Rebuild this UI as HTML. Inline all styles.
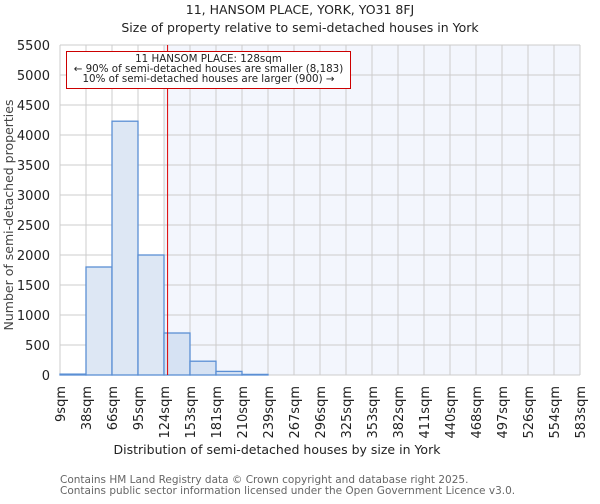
<!DOCTYPE html>
<html><head><meta charset="utf-8"><style>
body{margin:0;background:#fff;font-family:"DejaVu Sans","Liberation Sans",sans-serif;}
svg text{font-family:"DejaVu Sans","Liberation Sans",sans-serif;}
</style></head><body>
<svg id="c" width="600" height="500" xmlns="http://www.w3.org/2000/svg">
<text x="300" y="14" text-anchor="middle" font-size="12.5" fill="#222">11, HANSOM PLACE, YORK, YO31 8FJ</text>
<text x="300" y="32" text-anchor="middle" font-size="12.5" fill="#222">Size of property relative to semi-detached houses in York</text>
<g id="plot"></g>
<text x="277" y="454" text-anchor="middle" font-size="12.5" fill="#222">Distribution of semi-detached houses by size in York</text>
<text transform="translate(13,215) rotate(-90)" text-anchor="middle" font-size="12.5" fill="#444">Number of semi-detached properties</text>
<text x="60" y="483" font-size="10.5" fill="#666">Contains HM Land Registry data © Crown copyright and database right 2025.</text>
<text x="60" y="494" font-size="10.5" fill="#666">Contains public sector information licensed under the Open Government Licence v3.0.</text>
</svg>
<script>
const binLabels=["9sqm","38sqm","66sqm","95sqm","124sqm","153sqm","181sqm","210sqm","239sqm","267sqm","296sqm","325sqm","353sqm","382sqm","411sqm","440sqm","468sqm","497sqm","526sqm","554sqm","583sqm"];
const counts=[15,1800,4230,2000,700,230,60,10,0,0,0,0,0,0,0,0,0,0,0,0];
const yTicks=[0,500,1000,1500,2000,2500,3000,3500,4000,4500,5000,5500];
const subjectSize=128;
const highlightStartBin=4;
const NS="http://www.w3.org/2000/svg";
const L=60,R=580,T=45,B=375,YMAX=5500;
const bw=(R-L)/counts.length;
const xB=i=>L+i*bw;
const sz=binLabels.map(s=>parseFloat(s));
function xVal(v){for(let i=0;i<sz.length-1;i++){if(v<=sz[i+1])return xB(i)+(v-sz[i])/(sz[i+1]-sz[i])*bw;}return R;}
const y=v=>B-v/YMAX*(B-T);
const g=document.getElementById('plot');
function mk(t,a){const e=document.createElementNS(NS,t);for(const k in a)e.setAttribute(k,a[k]);g.appendChild(e);return e;}
let e;
e=mk('rect',{x:xB(highlightStartBin),y:T,width:R-xB(highlightStartBin),height:B-T,fill:'#f3f6fd'});


yTicks.forEach(v=>{
 e=mk('line',{x1:L,x2:R,y1:y(v),y2:y(v),stroke:'#cccccc','stroke-width':1});
 
 
 e=mk('text',{x:L-10,y:y(v)+5,'text-anchor':'end','font-size':13,fill:'#222'});
 e.textContent=v;
 
 
});
binLabels.forEach((s,i)=>{
 e=mk('line',{x1:xB(i),x2:xB(i),y1:T,y2:B,stroke:'#cccccc','stroke-width':1});
 
 
 e=mk('text',{transform:`translate(${xB(i)+5},386) rotate(-90)`,'text-anchor':'end','font-size':13,fill:'#222'});
 e.textContent=s;
 
 
});
counts.forEach((c,i)=>{
 e=mk('rect',{x:xB(i),y:y(c),width:bw,height:B-y(c),fill:i>=highlightStartBin?'#d6e2f3':'#dde7f4',stroke:'#5b8fd4','stroke-width':1.3});
 
 
});
e=mk('line',{x1:xVal(subjectSize),x2:xVal(subjectSize),y1:T,y2:B,stroke:'#dd0000','stroke-width':1});


e=mk('rect',{x:66.5,y:51.5,width:284,height:37,fill:'#fff',stroke:'#cc0000','stroke-width':1});


const ann=["11 HANSOM PLACE: 128sqm","← 90% of semi-detached houses are smaller (8,183)","10% of semi-detached houses are larger (900) →"];
ann.forEach((t,i)=>{
 e=mk('text',{x:208.5,y:62+i*10,'text-anchor':'middle','font-size':10.3,fill:'#222'});
 e.textContent=t;
 
 
});
</script>
</body></html>
